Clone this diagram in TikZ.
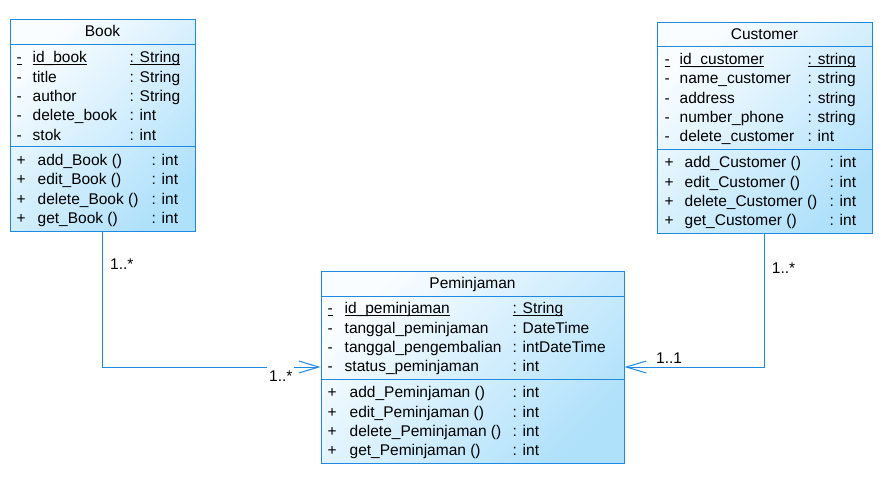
\documentclass[tikz,border=0pt]{standalone}
\usepackage{fontspec}
\setmainfont{Liberation Sans}
\usepackage{array}
\usetikzlibrary{arrows.meta}

\definecolor{umlblue}{RGB}{30,136,229}
\definecolor{shadetop}{RGB}{250,253,255}
\definecolor{shadebottom}{RGB}{176,225,251}

\newcommand{\keyname}[1]{\underline{\smash{#1}}}

\begin{document}
\begin{tikzpicture}[
                x=1pt, y=-1pt,
                font=\fontsize{15.5}{19.3}\selectfont,
                >={Straight Barb[length=20pt, width=12pt]},
                classbox/.style={rectangle, draw=umlblue, line width=1pt, top color=shadetop, bottom color=shadebottom, shading angle=45, inner sep=0pt},
                classline/.style={draw=umlblue, line width=1pt},
                membertext/.style={anchor=base west, inner sep=0pt},
                headtext/.style={anchor=base, inner sep=0pt},
                assoc/.style={draw=umlblue, line width=1pt, ->},
                multiplicity/.style={anchor=base west, inner xsep=2pt, inner ysep=4pt, fill=white},
            ]
            \useasboundingbox (0,0) rectangle (886,480);

            % Boxes
            \node[classbox, minimum width=185, minimum height=212]  (book)       at (102.5,125)   {};
            \node[classbox, minimum width=215, minimum height=211]  (customer)   at (764.5,127.5) {};
            \node[classbox, minimum width=303, minimum height=192]  (peminjaman) at (472.5,367)   {};

            % Compartments
            \draw[classline] ([yshift=-26]book.north west) -- ([yshift=-26]book.north east);
            \draw[classline] ([yshift=-128]book.north west) -- ([yshift=-128]book.north east);
            \draw[classline] ([yshift=-25.3]customer.north west) -- ([yshift=-25.3]customer.north east);
            \draw[classline] ([yshift=-128]customer.north west) -- ([yshift=-128]customer.north east);
            \draw[classline] ([yshift=-26]peminjaman.north west) -- ([yshift=-26]peminjaman.north east);
            \draw[classline] ([yshift=-109]peminjaman.north west) -- ([yshift=-109]peminjaman.north east);

            % Book
            \node[headtext]   (book_title) at ([yshift=-18.3]book.north) {Book};
            \node[membertext] (book_attr)  at ([xshift=7, yshift=-44.3]book.north west) {%
                \begin{tabular}[t]{@{}p{16pt}@{}p{97pt}@{}l@{}}
                \keyname{-} & \keyname{id\_book} & \keyname{: String}\\
                - & title & : String\\
                - & author & : String\\
                - & delete\_book & : int\\
                - & stok & : int
                \end{tabular}};
            \node[membertext] (book_meth)  at ([xshift=7, yshift=-147]book.north west) {%
                \begin{tabular}[t]{@{}p{21pt}@{}p{114pt}@{}l@{}}
                + & add\_Book () & : int\\
                + & edit\_Book () & : int\\
                + & delete\_Book () & : int\\
                + & get\_Book () & : int
                \end{tabular}};

            % Customer
            \node[headtext]   (customer_title) at ([yshift=-18]customer.north) {Customer};
            \node[membertext] (customer_attr)  at ([xshift=8, yshift=-43]customer.north west) {%
                \begin{tabular}[t]{@{}p{15pt}@{}p{128pt}@{}l@{}}
                \keyname{-} & \keyname{id\_customer} & \keyname{: string}\\
                - & name\_customer & : string\\
                - & address & : string\\
                - & number\_phone & : string\\
                - & delete\_customer & : int
                \end{tabular}};
            \node[membertext] (customer_meth)  at ([xshift=8, yshift=-146.3]customer.north west) {%
                \begin{tabular}[t]{@{}p{20pt}@{}p{145pt}@{}l@{}}
                + & add\_Customer () & : int\\
                + & edit\_Customer () & : int\\
                + & delete\_Customer () & : int\\
                + & get\_Customer () & : int
                \end{tabular}};

            % Peminjaman
            \node[headtext]   (peminjaman_title) at ([yshift=-18]peminjaman.north) {Peminjaman};
            \node[membertext] (peminjaman_attr)  at ([xshift=7, yshift=-43.3]peminjaman.north west) {%
                \begin{tabular}[t]{@{}p{17pt}@{}p{168pt}@{}l@{}}
                \keyname{-} & \keyname{id\_peminjaman} & \keyname{: String}\\
                - & tanggal\_peminjaman & : DateTime\\
                - & tanggal\_pengembalian & : intDateTime\\
                - & status\_peminjaman & : int
                \end{tabular}};
            \node[membertext] (peminjaman_meth)  at ([xshift=7, yshift=-127.3]peminjaman.north west) {%
                \begin{tabular}[t]{@{}p{22pt}@{}p{163pt}@{}l@{}}
                + & add\_Peminjaman () & : int\\
                + & edit\_Peminjaman () & : int\\
                + & delete\_Peminjaman () & : int\\
                + & get\_Peminjaman () & : int
                \end{tabular}};

            % Lines
            \draw[assoc] (book.south) |- (peminjaman.west);
            \draw[assoc] (customer.south) |- (peminjaman.east);

            % Multiplicities
            \node[multiplicity] (book_mult)            at (108,269.3)   {1..*};
            \node[multiplicity] (book_peminjaman_mult) at (267,381.3)   {1..*};
            \node[multiplicity] (customer_mult)        at (769.7,273.3) {1..*};
            \node[multiplicity] (customer_peminjaman_mult) at (654,363.3) {1..1};
        \end{tikzpicture}
\end{document}
